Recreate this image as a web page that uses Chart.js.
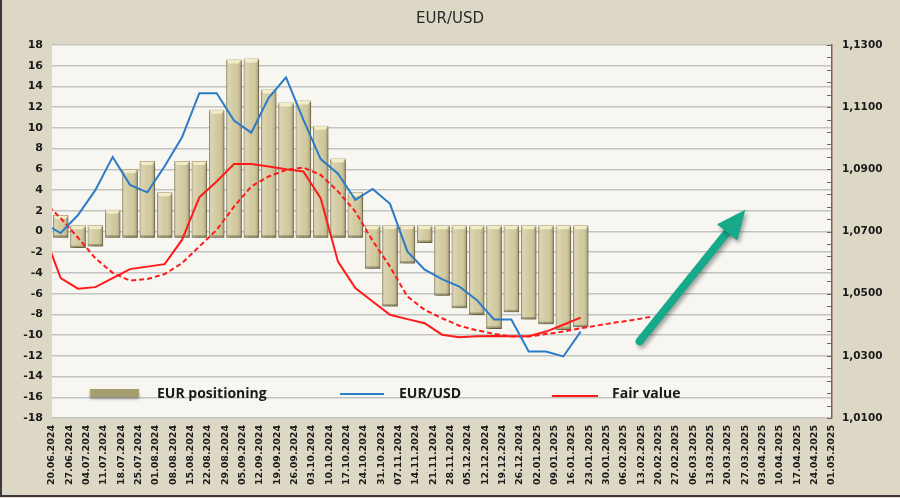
<!DOCTYPE html>
<html>
<head>
<meta charset="utf-8">
<title>EUR/USD</title>
<script src="https://cdn.jsdelivr.net/npm/chart.js@4.4.1/dist/chart.umd.min.js"></script>
<style>
  html, body { margin: 0; padding: 0; background: #DDD8C5; }
  #chart-wrap { width: 900px; height: 498px; position: relative; }
  #chart { display: block; }
</style>
</head>
<body>
<div id="chart-wrap"><canvas id="chart" width="900" height="498"></canvas></div>
<script>
// Weekly dates shown on the x axis (tick labels)
var weeks = [
    '20.06.2024', '27.06.2024', '04.07.2024', '11.07.2024', '18.07.2024', '25.07.2024',
    '01.08.2024', '08.08.2024', '15.08.2024', '22.08.2024', '29.08.2024', '05.09.2024',
    '12.09.2024', '19.09.2024', '26.09.2024', '03.10.2024', '10.10.2024', '17.10.2024',
    '24.10.2024', '31.10.2024', '07.11.2024', '14.11.2024', '21.11.2024', '28.11.2024',
    '05.12.2024', '12.12.2024', '19.12.2024', '26.12.2024', '02.01.2025', '09.01.2025',
    '16.01.2025', '23.01.2025', '30.01.2025', '06.02.2025', '13.02.2025', '20.02.2025',
    '27.02.2025', '06.03.2025', '13.03.2025', '20.03.2025', '27.03.2025', '03.04.2025',
    '10.04.2025', '17.04.2025', '24.04.2025', '01.05.2025'
];

// EUR positioning (left axis), one bar per week
var positioning = [
    1.6, -1.6, -1.45, 2.1, 6.0, 6.8, 3.8, 6.8, 6.8, 11.75, 16.6, 16.7, 13.7, 12.45, 12.65, 10.2,
    7.05, 3.8, -3.6, -7.25, -3.1, -1.1, -6.2, -7.4, -8.05, -9.4, -7.8, -8.5, -8.95, -9.5, -9.25
];

// Right axis series; the first value is the week before the visible range (clipped at the edge)
var eurusd = [
    1.0727,
    1.0695, 1.0753, 1.0833, 1.0940, 1.0850, 1.0826, 1.0910, 1.1003, 1.1145, 1.1145, 1.1057,
    1.1018, 1.1130, 1.1196, 1.1060, 1.0933, 1.0886, 1.0802, 1.0837, 1.0789, 1.0636, 1.0577,
    1.0547, 1.0523, 1.0480, 1.0417, 1.0417, 1.0314, 1.0314, 1.0298, 1.0378
];
var fairValue = [
    1.0700,
    1.0550, 1.0516, 1.0521, 1.0550, 1.0579, 1.0587, 1.0595, 1.0673, 1.0810, 1.0861, 1.0917,
    1.0917, 1.0909, 1.0900, 1.0893, 1.0807, 1.0603, 1.0518, 1.0475, 1.0432, 1.0418, 1.0405,
    1.0368, 1.0360, 1.0363, 1.0364, 1.0363, 1.0363, 1.0378, 1.0400, 1.0423
];
var fairValueTrend = [
    1.0797,
    1.0743, 1.0680, 1.0614, 1.0567, 1.0542, 1.0547, 1.0563, 1.0598, 1.0652, 1.0705, 1.0780,
    1.0845, 1.0877, 1.0898, 1.0906, 1.0882, 1.0829, 1.0764, 1.0670, 1.0587, 1.0491, 1.0448,
    1.0421, 1.0397, 1.0382, 1.0371, 1.0362, 1.0362, 1.0370, 1.0378, 1.0389, 1.0398, 1.0407,
    1.0415, 1.0425
];

// Axis ranges
var LEFT_MIN = -18, LEFT_MAX = 18, LEFT_STEP = 2;
var RIGHT_MIN = 1.01, RIGHT_MAX = 1.13, RIGHT_LABEL_STEP = 0.02, RIGHT_MINOR_STEP = 0.004;

// Look of the 3D bars: they stick out a little past zero
var BAR_DEPTH = 0.6;

// Arrow annotation, in axis units (x: week index, y: left axis)
var ARROW = { fromX: 33.9, fromY: -10.6, toX: 40.0, toY: 2.1 };

var FONT = '"DejaVu Sans", Verdana, sans-serif';
var LEGEND_FONT = '"Open Sans", "Noto Sans", sans-serif';
var BLUE = '#2B7BC6';
var RED = '#FF1A1A';

function fmtRight(v) {
    return v.toFixed(4).replace('.', ',');
}

var chartDecor = {
    id: 'chartDecor',
    beforeDraw: function(chart) {
        var ctx = chart.ctx, a = chart.chartArea;
        ctx.save();
        ctx.fillStyle = '#DDD8C5';
        ctx.fillRect(0, 0, chart.width, chart.height);
        ctx.fillStyle = '#F7F6F1';
        ctx.fillRect(a.left, a.top, a.right - a.left, a.bottom - a.top);
        ctx.restore();
    },
    beforeDatasetDraw: function(chart, args) {
        if (args.meta.type !== 'bar') return;
        var ctx = chart.ctx;
        ctx.save();
        ctx.shadowColor = 'rgba(0,0,0,0.35)';
        ctx.shadowBlur = 3;
        ctx.shadowOffsetX = 2;
        ctx.shadowOffsetY = 2;
    },
    afterDatasetDraw: function(chart, args) {
        if (args.meta.type !== 'bar') return;
        var ctx = chart.ctx;
        ctx.restore();
        // bevel overlay on each bar
        ctx.save();
        args.meta.data.forEach(function(el) {
            var p = el.getProps(['x', 'y', 'base', 'width'], true);
            var l = p.x - p.width / 2, r = p.x + p.width / 2;
            var t = Math.min(p.y, p.base), b = Math.max(p.y, p.base);
            var g = ctx.createLinearGradient(l, 0, r, 0);
            g.addColorStop(0, 'rgba(120,110,70,0.35)');
            g.addColorStop(0.15, 'rgba(255,255,255,0.2)');
            g.addColorStop(0.5, 'rgba(255,255,255,0.0)');
            g.addColorStop(0.8, 'rgba(120,110,70,0.12)');
            g.addColorStop(1, 'rgba(90,80,45,0.45)');
            ctx.fillStyle = g;
            ctx.fillRect(l + 0.5, t + 0.5, p.width - 1, b - t - 1);
            // lighter top cap
            ctx.fillStyle = 'rgba(245,240,205,0.9)';
            ctx.beginPath();
            ctx.moveTo(l + 0.5, t + 0.5);
            ctx.lineTo(r - 0.5, t + 0.5);
            ctx.lineTo(r - 3, t + 4);
            ctx.lineTo(l + 3, t + 4);
            ctx.closePath();
            ctx.fill();
            // darker bottom edge
            ctx.fillStyle = 'rgba(100,90,55,0.45)';
            ctx.fillRect(l + 0.5, b - 2.5, p.width - 1, 2);
        });
        ctx.restore();
    },
    afterDraw: function(chart) {
        var ctx = chart.ctx, a = chart.chartArea;
        var y1 = chart.scales.y1, xs = chart.scales.x, ys = chart.scales.y;
        ctx.save();

        // inward minor ticks on the right axis
        ctx.strokeStyle = '#8B5A5A';
        ctx.lineWidth = 1;
        y1.ticks.forEach(function(t) {
            var py = Math.round(y1.getPixelForValue(t.value)) + 0.5;
            ctx.beginPath();
            ctx.moveTo(a.right - 5, py);
            ctx.lineTo(a.right, py);
            ctx.stroke();
        });

        // title
        ctx.fillStyle = '#2a2a2a';
        ctx.font = '15px ' + FONT;
        ctx.textAlign = 'center';
        ctx.textBaseline = 'middle';
        ctx.fillText('EUR/USD', chart.width / 2, 19);

        // legend inside the plot
        var ly = 394;
        ctx.font = 'bold 14px ' + LEGEND_FONT;
        ctx.textAlign = 'left';
        ctx.save();
        ctx.shadowColor = 'rgba(0,0,0,0.35)';
        ctx.shadowBlur = 3;
        ctx.shadowOffsetY = 2;
        ctx.fillStyle = '#A89F6E';
        ctx.fillRect(90, ly - 5, 49, 8);
        ctx.restore();
        ctx.fillStyle = '#1a1a1a';
        ctx.fillText('EUR positioning', 157, ly);

        ctx.lineWidth = 2;
        ctx.strokeStyle = BLUE;
        ctx.beginPath(); ctx.moveTo(340, ly); ctx.lineTo(384, ly); ctx.stroke();
        ctx.fillText('EUR/USD', 399, ly);

        ctx.strokeStyle = RED;
        ctx.beginPath(); ctx.moveTo(552, ly + 2); ctx.lineTo(598, ly + 2); ctx.stroke();
        ctx.fillText('Fair value', 612, ly);

        // arrow annotation
        var x0 = xs.getPixelForValue(ARROW.fromX), y0 = ys.getPixelForValue(ARROW.fromY);
        var x1 = xs.getPixelForValue(ARROW.toX), y1p = ys.getPixelForValue(ARROW.toY);
        var ang = Math.atan2(y1p - y0, x1 - x0);
        var headLen = 29, headHalf = 13;
        var bx = x1 - Math.cos(ang) * (headLen - 4), by = y1p - Math.sin(ang) * (headLen - 4);
        ctx.save();
        ctx.shadowColor = 'rgba(0,0,0,0.35)';
        ctx.shadowBlur = 4;
        ctx.shadowOffsetX = 2;
        ctx.shadowOffsetY = 3;
        ctx.strokeStyle = '#16A98A';
        ctx.fillStyle = '#16A98A';
        ctx.lineWidth = 8;
        ctx.lineCap = 'round';
        ctx.beginPath();
        ctx.moveTo(x0, y0);
        ctx.lineTo(bx, by);
        ctx.stroke();
        var hx = x1 - Math.cos(ang) * headLen, hy = y1p - Math.sin(ang) * headLen;
        ctx.beginPath();
        ctx.moveTo(x1, y1p);
        ctx.lineTo(hx + Math.sin(ang) * headHalf, hy - Math.cos(ang) * headHalf);
        ctx.lineTo(hx - Math.sin(ang) * headHalf, hy + Math.cos(ang) * headHalf);
        ctx.closePath();
        ctx.fill();
        ctx.restore();

        // outer frame (left and bottom)
        ctx.strokeStyle = '#3a3a3a';
        ctx.lineWidth = 2;
        ctx.beginPath();
        ctx.moveTo(1, 0);
        ctx.lineTo(1, 496);
        ctx.lineTo(chart.width, 496);
        ctx.stroke();

        ctx.restore();
    }
};

function lineData(values) {
    // first value sits one week before the first tick, the rest at the week centres
    return values.map(function(v, j) { return { x: j - 0.5, y: v }; });
}

var ctx = document.getElementById('chart').getContext('2d');
var chart = new Chart(ctx, {
    type: 'bar',
    data: {
        datasets: [
            {
                type: 'line',
                label: 'EUR/USD',
                data: lineData(eurusd),
                yAxisID: 'y1',
                borderColor: BLUE,
                borderWidth: 2,
                pointRadius: 0,
                tension: 0,
                fill: false,
                order: 0
            },
            {
                type: 'line',
                label: 'Fair value',
                data: lineData(fairValue),
                yAxisID: 'y1',
                borderColor: RED,
                borderWidth: 2,
                pointRadius: 0,
                tension: 0,
                fill: false,
                order: 1
            },
            {
                type: 'line',
                label: 'Fair value trend',
                data: lineData(fairValueTrend),
                yAxisID: 'y1',
                borderColor: RED,
                borderWidth: 2,
                borderDash: [5, 3],
                pointRadius: 0,
                tension: 0,
                fill: false,
                order: 1
            },
            {
                type: 'bar',
                label: 'EUR positioning',
                data: positioning.map(function(v, i) {
                    return { x: i + 0.5, y: v >= 0 ? [-BAR_DEPTH, v] : [BAR_DEPTH, v] };
                }),
                yAxisID: 'y',
                backgroundColor: '#D2CA9F',
                borderColor: '#8C845E',
                borderWidth: 1,
                borderSkipped: false,
                barPercentage: 0.9,
                categoryPercentage: 1,
                order: 3
            }
        ]
    },
    options: {
        responsive: false,
        animation: false,
        devicePixelRatio: 1,
        layout: { padding: { top: 45, left: 0, right: 0, bottom: 0 } },
        plugins: {
            legend: { display: false },
            tooltip: { enabled: false },
            title: { display: false }
        },
        scales: {
            x: {
                type: 'linear',
                min: 0,
                max: weeks.length - 1,
                offset: false,
                grid: { display: false, drawTicks: false },
                border: { display: false },
                afterFit: function(scale) { scale.height = 80; },
                ticks: {
                    stepSize: 1,
                    autoSkip: false,
                    maxTicksLimit: 200,
                    minRotation: 90,
                    maxRotation: 90,
                    padding: 7,
                    color: '#1a1a1a',
                    font: { family: FONT, size: 9.5, weight: 'bold' },
                    callback: function(v) { return weeks[Math.round(v)]; }
                }
            },
            y: {
                position: 'left',
                min: LEFT_MIN,
                max: LEFT_MAX,
                grid: { color: '#C3C3C3', lineWidth: 1.5, drawTicks: false },
                border: { display: false },
                afterFit: function(scale) { scale.width = 52; },
                ticks: {
                    stepSize: LEFT_STEP,
                    autoSkip: false,
                    padding: 9,
                    color: '#1a1a1a',
                    font: { family: FONT, size: 11, weight: 'bold' }
                }
            },
            y1: {
                position: 'right',
                min: RIGHT_MIN,
                max: RIGHT_MAX,
                grid: { display: false, drawTicks: false },
                border: { display: true, color: '#8B5A5A', width: 1.5 },
                afterFit: function(scale) { scale.width = 68; },
                ticks: {
                    stepSize: RIGHT_MINOR_STEP,
                    autoSkip: false,
                    padding: 10,
                    color: '#1a1a1a',
                    font: { family: FONT, size: 10.5, weight: 'bold' },
                    callback: function(v) {
                        var n = (v - RIGHT_MIN) / RIGHT_LABEL_STEP;
                        return Math.abs(n - Math.round(n)) < 1e-6 ? fmtRight(v) : '';
                    }
                }
            }
        }
    },
    plugins: [chartDecor]
});
</script>
</body>
</html>
